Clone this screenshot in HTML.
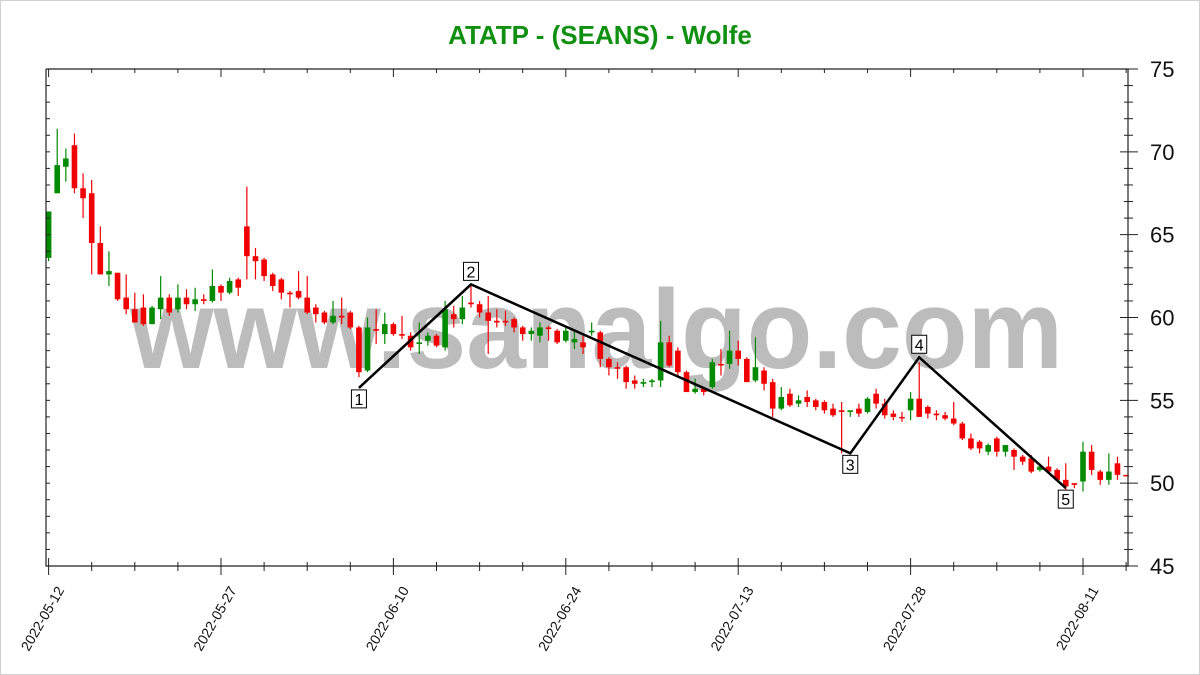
<!DOCTYPE html>
<html><head><meta charset="utf-8"><style>
html,body{margin:0;padding:0;background:#fff;}
svg{display:block;font-family:"Liberation Sans",Arial,sans-serif;}
</style></head><body>
<svg id="chart" width="1200" height="675" viewBox="0 0 1200 675" xmlns="http://www.w3.org/2000/svg">
<rect x="0.5" y="0.5" width="1199" height="674" fill="#fff" stroke="#d0d0d0"/>
<text x="600" y="44" text-anchor="middle" font-size="26" font-weight="bold" fill="#109010">ATATP - (SEANS) - Wolfe</text>
<text x="130" y="368" font-size="112" font-weight="bold" fill="#bcbcbc" textLength="933" lengthAdjust="spacingAndGlyphs">www.sanalgo.com</text>
<g id="candles"></g>
<g id="wolfe"></g>
<g id="axes"></g>
</svg>
<script>
const opens  = [63.6,67.5,69.1,70.4,67.8,67.5,64.5,62.6,62.7,61.2,60.5,60.6,59.6,60.5,61.2,60.5,61.2,60.8,61.1,61.0,61.9,61.5,62.3,65.5,63.7,63.5,62.6,62.3,61.5,61.6,61.2,60.6,60.3,59.7,60.1,60.3,59.4,56.8,59.3,59.0,59.6,59.0,58.9,58.4,58.6,58.9,58.2,60.2,59.9,60.9,60.8,60.3,59.8,59.8,59.9,59.4,59.0,58.9,59.4,59.2,58.6,58.5,58.5,59.1,59.1,57.5,57.0,57.0,56.2,56.0,56.1,56.2,58.5,58.0,56.7,55.5,55.7,55.8,57.2,57.2,58.0,57.5,56.2,56.8,56.1,54.5,55.4,54.8,55.2,55.0,54.9,54.5,54.4,54.3,54.5,54.3,55.4,54.8,54.2,54.0,54.4,55.1,54.6,54.2,54.1,53.9,53.6,52.7,52.5,51.9,52.7,51.9,52.0,51.6,51.5,50.8,51.0,50.8,50.2,50.0,50.1,51.9,50.7,50.2,51.2,50.5];
const closes = [66.4,69.2,69.6,67.8,67.2,64.5,62.6,62.8,61.1,60.5,59.7,59.6,60.6,61.2,60.3,61.2,60.8,61.1,61.0,61.9,61.5,62.2,61.8,63.7,63.4,62.5,61.9,61.5,61.4,61.2,60.3,60.2,59.7,60.1,60.0,59.4,56.7,59.4,59.2,59.6,59.0,58.9,58.2,58.5,58.9,58.3,60.5,59.9,60.6,60.8,60.3,59.8,59.7,59.7,59.4,59.0,59.2,59.4,59.3,58.5,59.2,58.7,58.2,59.2,57.5,57.0,56.9,56.1,56.0,56.1,56.2,58.5,57.1,56.7,55.5,55.7,55.5,57.3,57.1,58.0,57.5,56.1,57.0,56.0,54.5,55.2,54.7,55.0,54.9,54.6,54.4,54.1,54.3,54.4,54.2,55.1,54.8,54.1,54.0,53.95,55.1,54.0,54.2,54.1,53.9,53.6,52.7,52.1,52.1,52.3,51.9,52.3,51.6,51.3,50.7,51.0,50.7,50.2,49.8,49.9,51.9,50.8,50.2,50.7,50.5,50.45];
const highs  = [66.4,71.4,70.2,71.1,68.7,68.3,65.5,64.0,62.7,62.6,61.5,61.4,60.7,62.5,61.4,62.0,61.7,61.8,61.4,62.9,62.0,62.4,62.4,67.9,64.2,63.6,62.7,62.4,61.6,62.8,62.5,60.8,60.4,61.0,61.2,60.4,59.5,60.0,60.5,60.3,59.7,60.1,59.1,59.7,59.1,59.0,61.0,60.7,61.3,61.9,61.0,61.3,60.5,60.4,60.0,59.5,59.4,59.7,59.5,59.3,59.4,59.2,58.9,59.7,59.2,57.6,57.3,57.1,56.5,56.3,56.3,59.8,58.9,58.2,56.8,56.3,55.8,57.5,58.1,59.2,58.6,57.6,58.8,57.0,56.3,55.8,55.7,55.3,55.6,55.1,55.0,54.8,54.9,54.3,54.8,55.2,55.7,55.1,54.4,54.3,55.5,57.3,54.7,54.4,54.3,54.9,53.7,53.0,52.6,52.4,52.8,52.3,52.1,51.7,51.7,51.1,51.6,50.9,51.2,50.0,52.5,52.3,50.8,51.8,51.6,50.5];
const lows   = [63.4,67.5,68.2,67.5,66.0,62.6,62.6,61.9,61.0,60.2,59.7,59.5,59.6,59.9,60.1,60.3,60.5,60.4,60.8,60.9,61.0,61.4,61.3,62.3,62.3,62.2,61.6,61.1,60.6,61.1,60.2,59.7,59.6,59.6,59.6,59.3,56.4,56.7,58.4,58.4,58.9,58.7,58.0,57.8,58.3,58.2,58.0,59.4,59.6,60.6,60.0,57.8,59.4,59.5,59.1,58.6,58.6,58.5,58.6,58.4,58.5,58.1,57.8,58.9,57.0,56.5,56.3,55.7,55.7,55.8,55.8,55.8,57.0,56.5,55.5,55.4,55.3,55.7,56.5,56.9,57.1,56.1,56.1,55.6,54.0,54.4,54.6,54.6,54.6,54.4,54.2,54.0,51.8,54.0,54.0,54.2,54.5,53.9,53.8,53.7,53.8,54.0,53.9,53.8,53.8,53.5,52.6,52.0,51.8,51.7,51.6,51.6,50.8,51.1,50.6,50.7,50.6,50.1,49.6,49.7,49.5,50.5,49.9,49.9,50.2,50.4];
const dateLabels = ["2022-05-12","2022-05-27","2022-06-10","2022-06-24","2022-07-13","2022-07-28","2022-08-11"];
const dateLabelEvery = 20;
const yTicks = [45,50,55,60,65,70,75];
const wolfeIdx   = [36,49,93,101,118];
const wolfePrice = [55.75,62.0,51.8,57.6,49.7];
const wolfeNames = ["1","2","3","4","5"];
const wolfeBelow = [true,false,true,false,true];

const NS="http://www.w3.org/2000/svg";
const X0=46, X1=1128, Y0=69, Y1=566, YMIN=45, YMAX=75;
const B0=48.6, BSTEP=8.62;
function xs(i){return B0+i*BSTEP;}
function ys(v){return Y1-(v-YMIN)/(YMAX-YMIN)*(Y1-Y0);}
function mk(tag,attrs,parent){const e=document.createElementNS(NS,tag);for(const k in attrs)e.setAttribute(k,attrs[k]);parent.appendChild(e);return e;}

const cg=document.getElementById('candles');
for(let i=0;i<opens.length;i++){
  const up=closes[i]>=opens[i];
  const col=up?'#008a00':'#f00000';
  const x=xs(i);
  const w=mk('line',{x1:x,x2:x,y1:ys(highs[i]),y2:ys(lows[i]),stroke:col,'stroke-width':1.2},cg);
  
  
  const top=ys(Math.max(opens[i],closes[i])), bot=ys(Math.min(opens[i],closes[i]));
  const r=mk('rect',{x:x-2.8,y:top,width:5.6,height:Math.max(1.5,bot-top),fill:col},cg);
  
  
}

const wg=document.getElementById('wolfe');
let pts=wolfeIdx.map((b,k)=>xs(b).toFixed(1)+','+ys(wolfePrice[k]).toFixed(1)).join(' ');
const pl=mk('polyline',{points:pts,fill:'none',stroke:'#000','stroke-width':2.5},wg);


for(let k=0;k<wolfeIdx.length;k++){
  const x=xs(wolfeIdx[k]), y=ys(wolfePrice[k]);
  const cy=wolfeBelow[k]?y+11:y-13;
  const g=mk('g',{},wg);
  
  
  mk('rect',{x:x-7.5,y:cy-9,width:15,height:18,fill:'#fff',stroke:'#000','stroke-width':1},g);
  const t=mk('text',{x:x,y:cy+6,'text-anchor':'middle','font-size':16,fill:'#000'},g);
  t.textContent=wolfeNames[k];
}

const ag=document.getElementById('axes');
const frame=mk('path',{d:`M${X0},${Y0} L${X0},${Y1} L${X1},${Y1} L${X1},${Y0} L${X0},${Y0}`,fill:'none',stroke:'#222','stroke-width':1.2},ag);


for(let v=YMIN; v<=YMAX; v++){
  const y=ys(v), major=(v%5===0);
  mk('line',{x1:X0,x2:X0+4,y1:y,y2:y,stroke:'#222'},ag);
  mk('line',{x1:major?X1-8:X1-4,x2:major?X1+10:X1+5,y1:y,y2:y,stroke:'#222'},ag);
}
yTicks.forEach(v=>{
  const t=mk('text',{x:1150,y:ys(v)+8,'font-size':22,fill:'#111'},ag);
  
  
  t.textContent=v;
});
for(let i=0; xs(i)<X1; i+=5){
  const x=xs(i), major=(i%dateLabelEvery===0);
  mk('line',{x1:x,x2:x,y1:major?Y1-8:Y1-4,y2:major?Y1+9:Y1+5,stroke:'#222'},ag);
  mk('line',{x1:x,x2:x,y1:Y0,y2:Y0+(major?8:4),stroke:'#222'},ag);
}
dateLabels.forEach((d,k)=>{
  const x=xs(k*dateLabelEvery)+16, y=590;
  const t=mk('text',{x:x,y:y,'text-anchor':'end','font-size':14,fill:'#111',transform:`rotate(-60 ${x} ${y})`},ag);
  
  
  t.textContent=d;
});
</script>
</body></html>
